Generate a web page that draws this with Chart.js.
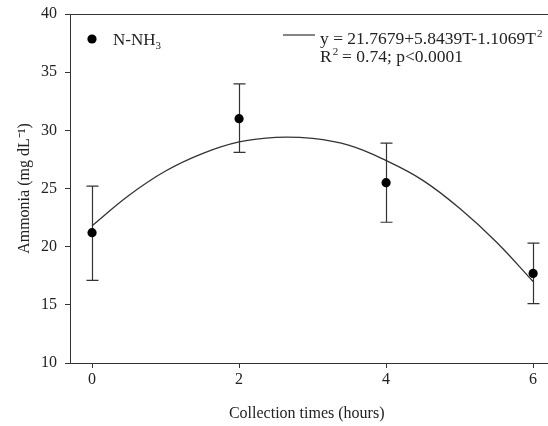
<!DOCTYPE html>
<html>
<head>
<meta charset="utf-8">
<script src="https://cdn.jsdelivr.net/npm/chart.js@4.4.0/dist/chart.umd.min.js"></script>
<style>
html,body{margin:0;padding:0;background:#fff;overflow:hidden}
</style>
</head>
<body>
<canvas id="myChart" width="548" height="426"></canvas>
<script>
var times = [0, 2, 4, 6];
var ammonia = [21.2, 31.0, 25.5, 17.7];
var errUp = [25.2, 34.0, 28.9, 20.3];
var errLow = [17.1, 28.1, 22.1, 15.1];

// fitted curve, read at half-hour steps
var fitT = [0, 0.5, 1, 1.5, 2, 2.5, 3, 3.5, 4, 4.5, 5, 5.5, 6];
var fitY = [21.8, 24.4, 26.5, 28.0, 29.0, 29.4, 29.3, 28.7, 27.4, 25.7, 23.3, 20.4, 17.0];

var xTicks = [0, 2, 4, 6];
var yTicks = [10, 15, 20, 25, 30, 35, 40];

var serif = "'Liberation Serif', 'Times New Roman', serif";
var ink = '#222';
var axisCol = '#333';

var errorBars = {
  id: 'errorBars',
  beforeDatasetsDraw: function(chart) {
    var ctx = chart.ctx, x = chart.scales.x, y = chart.scales.y;
    ctx.save();
    ctx.strokeStyle = axisCol;
    ctx.lineWidth = 1.2;
    for (var i = 0; i < times.length; i++) {
      var px = Math.round(x.getPixelForValue(times[i])) + 0.5;
      var top = y.getPixelForValue(errUp[i]);
      var bot = y.getPixelForValue(errLow[i]);
      ctx.beginPath();
      ctx.moveTo(px, top); ctx.lineTo(px, bot);
      ctx.moveTo(px - 6, top); ctx.lineTo(px + 6, top);
      ctx.moveTo(px - 6, bot); ctx.lineTo(px + 6, bot);
      ctx.stroke();
    }
    ctx.restore();
  }
};

var frameAndLegend = {
  id: 'frameAndLegend',
  afterDraw: function(chart) {
    var ctx = chart.ctx, a = chart.chartArea;
    ctx.save();
    // top border, runs off the right edge like the original
    ctx.strokeStyle = axisCol;
    ctx.lineWidth = 1;
    ctx.beginPath();
    ctx.moveTo(a.left, Math.round(a.top) + 0.5);
    ctx.lineTo(chart.width, Math.round(a.top) + 0.5);
    ctx.moveTo(a.right, Math.round(a.bottom) + 0.5);
    ctx.lineTo(chart.width, Math.round(a.bottom) + 0.5);
    ctx.stroke();

    // legend: points
    ctx.fillStyle = '#000';
    ctx.beginPath();
    ctx.arc(92, 39, 4.6, 0, Math.PI * 2);
    ctx.fill();
    ctx.fillStyle = ink;
    ctx.textBaseline = 'alphabetic';
    ctx.font = '17px ' + serif;
    ctx.fillText('N-NH', 113, 45);
    var w = ctx.measureText('N-NH').width;
    ctx.font = '11px ' + serif;
    ctx.fillText('3', 113 + w, 49);

    // legend: curve
    ctx.strokeStyle = axisCol;
    ctx.lineWidth = 1.2;
    ctx.beginPath();
    ctx.moveTo(283, 35); ctx.lineTo(315, 35);
    ctx.stroke();
    ctx.font = '17.5px ' + serif;
    var eq = 'y = 21.7679+5.8439T-1.1069T';
    ctx.fillText(eq, 320, 44);
    w = ctx.measureText(eq).width;
    ctx.font = '11px ' + serif;
    ctx.fillText('2', 320 + w + 1, 37);

    ctx.font = '17.5px ' + serif;
    ctx.fillText('R', 320, 62);
    w = ctx.measureText('R').width;
    ctx.font = '11px ' + serif;
    ctx.fillText('2', 320 + w + 1, 55);
    ctx.font = '17.5px ' + serif;
    ctx.fillText(' = 0.74; p<0.0001', 320 + w + 6, 62);
    ctx.restore();
  }
};

function noPad(s) {
  s.paddingTop = 0; s.paddingBottom = 0; s.paddingLeft = 0; s.paddingRight = 0;
}

var fitPoints = fitT.map(function(t, i) { return {x: t, y: fitY[i]}; });
var meanPoints = times.map(function(t, i) { return {x: t, y: ammonia[i]}; });

new Chart(document.getElementById('myChart'), {
  type: 'scatter',
  data: {
    datasets: [
      {
        label: 'fit',
        data: fitPoints,
        showLine: true,
        borderColor: axisCol,
        borderWidth: 1.3,
        pointRadius: 0,
        tension: 0.4,
        fill: false
      },
      {
        label: 'N-NH3',
        data: meanPoints,
        pointRadius: 4.6,
        pointBackgroundColor: '#000',
        pointBorderColor: '#000',
        pointBorderWidth: 0
      }
    ]
  },
  options: {
    responsive: false,
    animation: false,
    devicePixelRatio: 1,
    layout: {padding: {top: 14, right: 0, left: 0, bottom: 0}},
    plugins: {legend: {display: false}, tooltip: {enabled: false}},
    scales: {
      x: {
        type: 'linear',
        min: -0.3,
        max: 6.14,
        afterBuildTicks: function(s) { s.ticks = xTicks.map(function(v) { return {value: v}; }); },
        afterFit: function(s) { s.height = 63; noPad(s); },
        grid: {drawOnChartArea: false, drawTicks: true, tickLength: 5, tickColor: axisCol},
        border: {display: true, color: axisCol, width: 1},
        ticks: {color: ink, font: {family: serif, size: 16}, padding: 2, maxRotation: 0},
        title: {display: true, text: 'Collection times (hours)', color: ink,
                font: {family: serif, size: 16}, padding: {top: 0, bottom: 3}}
      },
      y: {
        type: 'linear',
        min: 10,
        max: 40,
        afterBuildTicks: function(s) { s.ticks = yTicks.map(function(v) { return {value: v}; }); },
        afterFit: function(s) { s.width = 70; noPad(s); },
        grid: {drawOnChartArea: false, drawTicks: true, tickLength: 5, tickColor: axisCol},
        border: {display: true, color: axisCol, width: 1},
        ticks: {color: ink, font: {family: serif, size: 16}, padding: 8},
        title: {display: true, text: 'Ammonia (mg dL\u207B\u00B9)', color: ink,
                font: {family: serif, size: 16}, padding: {top: 15, bottom: 0}}
      }
    }
  },
  plugins: [errorBars, frameAndLegend]
});
</script>
</body>
</html>
